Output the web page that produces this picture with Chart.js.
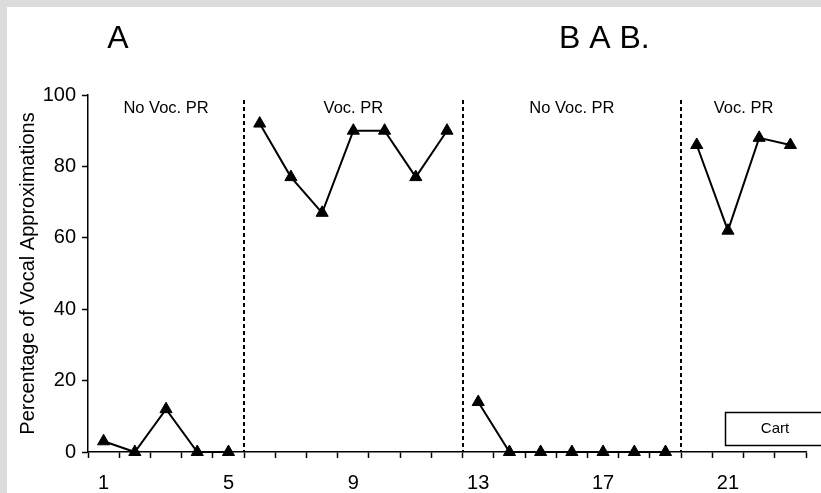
<!DOCTYPE html>
<html>
<head>
<meta charset="utf-8">
<script src="https://cdn.jsdelivr.net/npm/chart.js@4.4.1/dist/chart.umd.min.js"></script>
<style>
  body { margin: 0; background: #dcdcdc; }
  #wrap { position: absolute; left: 7px; top: 7px; width: 814px; height: 486px; background: #fff; }
</style>
</head>
<body>
<div id="wrap"><canvas id="chart" width="814" height="486"></canvas></div>
<script>
// sessions 1..23
const sessions = ['1','2','3','4','5','6','7','8','9','10','11','12','13','14','15','16','17','18','19','20','21','22','23'];

// one array per phase, null outside the phase so the line breaks
const phase1 = [3, 0, 12, 0, 0, null, null, null, null, null, null, null, null, null, null, null, null, null, null, null, null, null, null];
const phase2 = [null, null, null, null, null, 92, 77, 67, 90, 90, 77, 90, null, null, null, null, null, null, null, null, null, null, null];
const phase3 = [null, null, null, null, null, null, null, null, null, null, null, null, 14, 0, 0, 0, 0, 0, 0, null, null, null, null];
const phase4 = [null, null, null, null, null, null, null, null, null, null, null, null, null, null, null, null, null, null, null, 86, 62, 88, 86];

const phaseLabels = ['No Voc. PR', 'Voc. PR', 'No Voc. PR', 'Voc. PR'];
const phaseEnds = [5, 12, 19, 23];   // last session of each phase
const yTicks = [0, 20, 40, 60, 80, 100];

const FONT = '"Liberation Sans", Arial, sans-serif';

function series(data) {
    return {
        data: data,
        borderColor: '#000',
        backgroundColor: '#000',
        borderWidth: 2,
        pointStyle: 'triangle',
        pointRadius: 7,
        pointBorderWidth: 1,
        spanGaps: false,
        clip: false,
        tension: 0
    };
}

// phase lines, phase labels, panel titles and the "Cart" box
const annotations = {
    id: 'annotations',
    afterDatasetsDraw(chart) {
        const ctx = chart.ctx;
        const x = chart.scales.x;
        const area = chart.chartArea;
        ctx.save();

        // dashed phase change lines
        ctx.strokeStyle = '#000';
        ctx.lineWidth = 2;
        ctx.setLineDash([4, 3]);
        for (let i = 0; i < phaseEnds.length - 1; i++) {
            const px = Math.round(x.getPixelForValue(phaseEnds[i] - 0.5));
            ctx.beginPath();
            ctx.moveTo(px, area.top + 5);
            ctx.lineTo(px, area.bottom);
            ctx.stroke();
        }
        ctx.setLineDash([]);

        // phase labels
        ctx.fillStyle = '#000';
        ctx.font = '16.5px ' + FONT;
        ctx.textAlign = 'center';
        ctx.textBaseline = 'middle';
        let start = area.left;
        phaseEnds.forEach((end, i) => {
            const stop = i === phaseEnds.length - 1 ? area.right : x.getPixelForValue(end - 0.5);
            ctx.fillText(phaseLabels[i], (start + stop) / 2, area.top + 13);
            start = stop;
        });

        // panel titles
        ctx.font = '32px ' + FONT;
        ctx.textBaseline = 'alphabetic';
        ctx.fillText('A', 111, 41);
        ctx.textAlign = 'left';
        ctx.fillText('B A B.', 552, 41);

        // Cart box
        ctx.lineWidth = 1.5;
        ctx.strokeRect(718.5, 405.5, 110, 33);
        ctx.font = '15px ' + FONT;
        ctx.textAlign = 'center';
        ctx.textBaseline = 'middle';
        ctx.fillText('Cart', 768, 422);

        ctx.restore();
    }
};

new Chart(document.getElementById('chart'), {
    type: 'line',
    data: {
        labels: sessions,
        datasets: [series(phase1), series(phase2), series(phase3), series(phase4)]
    },
    options: {
        responsive: false,
        animation: false,
        layout: { padding: { left: 0, top: 88, right: 15, bottom: 0 } },
        plugins: { legend: { display: false }, tooltip: { enabled: false } },
        scales: {
            x: {
                type: 'category',
                offset: true,
                grid: { offset: true, drawOnChartArea: false, tickLength: 6, color: '#000', tickWidth: 1.5 },
                border: { color: '#000', width: 1.5 },
                ticks: {
                    autoSkip: false,
                    maxRotation: 0,
                    color: '#000',
                    font: { family: FONT, size: 20 },
                    padding: 13,
                    callback: function (value, index) {
                        return index % 4 === 0 ? this.getLabelForValue(value) : '';
                    }
                },
                afterFit: (scale) => { scale.height = 41; }
            },
            y: {
                min: 0,
                max: 100,
                afterBuildTicks: (scale) => { scale.ticks = yTicks.map(v => ({ value: v })); },
                grid: { drawOnChartArea: false, tickLength: 6, color: '#000', tickWidth: 1.5 },
                border: { color: '#000', width: 1.5 },
                ticks: {
                    color: '#000',
                    font: { family: FONT, size: 20 },
                    padding: 6
                },
                title: {
                    display: true,
                    text: 'Percentage of Vocal Approximations',
                    color: '#000',
                    font: { family: FONT, size: 20 },
                    padding: { top: 9, bottom: 0 }
                },
                afterFit: (scale) => { scale.width = 81; }
            }
        }
    },
    plugins: [annotations]
});
</script>
</body>
</html>
